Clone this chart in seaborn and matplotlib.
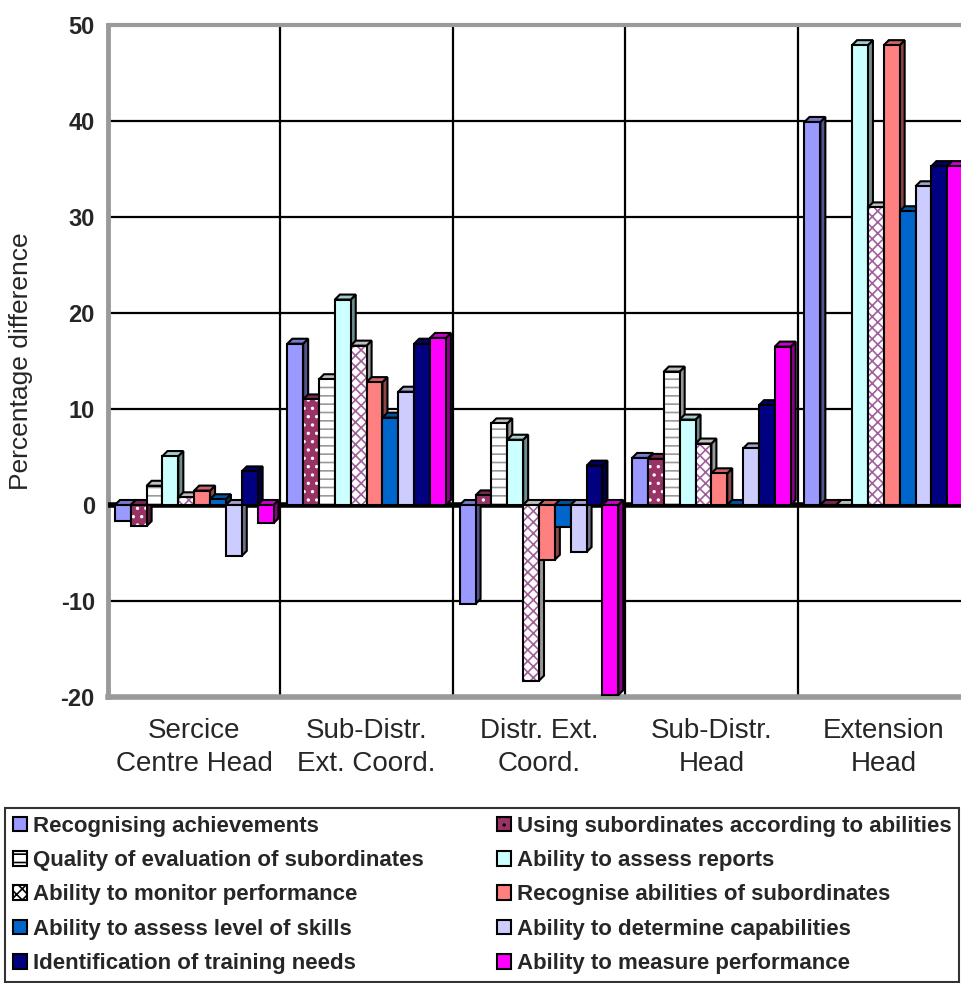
import numpy as np
import pandas as pd
import matplotlib
matplotlib.use("Agg")
import matplotlib.pyplot as plt
from matplotlib.patches import Patch, Polygon, Rectangle
import matplotlib.colors as mcolors
import seaborn as sns

sns.set_style("white")
plt.rcParams["font.family"] = ["Liberation Sans", "DejaVu Sans"]
plt.rcParams["hatch.linewidth"] = 1.2

groups = ["Sercice\nCentre Head", "Sub-Distr.\nExt. Coord.", "Distr. Ext.\nCoord.",
          "Sub-Distr.\nHead", "Extension\nHead"]
series = [
    "Recognising achievements",
    "Using subordinates according to abilities",
    "Quality of evaluation of subordinates",
    "Ability to assess reports",
    "Ability to monitor performance",
    "Recognise abilities of subordinates",
    "Ability to assess level of skills",
    "Ability to determine capabilities",
    "Identification of training needs",
    "Ability to measure performance",
]
# values per series, one per group
recognising = [-1.7, 16.8, -10.3, 4.9, 39.9]
using_subs = [-2.2, 11.0, 1.0, 4.8, 0.0]
quality_eval = [2.0, 13.1, 8.5, 13.9, 0.0]
assess_reports = [5.1, 21.4, 6.8, 8.9, 47.9]
monitor_perf = [0.8, 16.6, -18.3, 6.4, 31.0]
recognise_abil = [1.5, 12.8, -5.7, 3.3, 47.9]
assess_skills = [0.6, 9.1, -2.3, 0.0, 30.6]
determine_cap = [-5.3, 11.8, -4.9, 5.9, 33.2]
training_needs = [3.5, 16.8, 4.1, 10.4, 35.3]
measure_perf = [-1.9, 17.4, -19.8, 16.5, 35.3]

values = [recognising, using_subs, quality_eval, assess_reports, monitor_perf,
          recognise_abil, assess_skills, determine_cap, training_needs, measure_perf]

face = ["#9999FF", "#993366", "#FFFFFF", "#CCFFFF", "#FFFFFF",
        "#FF8080", "#0066CC", "#CCCCFF", "#000080", "#FF00FF"]
hatches = [None, "..", "--", None, "xxx", None, None, None, None, None]
hatch_col = [None, "#FFFFFF", "#999999", None, "#A0609A", None, None, None, None, None]

df = pd.DataFrame({
    "group": np.repeat(groups, len(series)),
    "series": series * len(groups),
    "value": [values[s][g] for g in range(len(groups)) for s in range(len(series))],
})

W, H, DPI = 961, 983, 100
fig = plt.figure(figsize=(W / DPI, H / DPI), dpi=DPI)
left, right, bottom, top = 108 / W, 970 / W, 1 - 697 / H, 1 - 25 / H
ax = fig.add_axes([left, bottom, right - left, top - bottom])

sns.barplot(data=df, x="group", y="value", hue="series", hue_order=series,
            order=groups, palette=face, width=0.92, gap=0, legend=False,
            saturation=1, ax=ax, zorder=3)

ax.set_xlim(-0.5, 4.5)
ax.set_ylim(-20, 50)

# depth offsets in data units (about 5 px)
px_x = (right - left) * W / 5.0
px_y = (top - bottom) * H / 70.0
dx, dy = 5 / px_x, 5 / px_y

for i, cont in enumerate(ax.containers):
    base_z = 3 + i * 0.01
    for p in cont.patches:
        x0, w = p.get_x(), p.get_width()
        y0, h = p.get_y(), p.get_height()
        ylo, yhi = min(y0, y0 + h), max(y0, y0 + h)
        x1 = x0 + w
        fc = mcolors.to_rgb(face[i])
        dark = tuple(c * 0.55 for c in fc) if face[i] != "#FFFFFF" else (0.6, 0.6, 0.6)
        mid = tuple(c * 0.8 for c in fc) if face[i] != "#FFFFFF" else (0.75, 0.75, 0.75)
        side = Polygon([(x1, ylo), (x1, yhi), (x1 + dx, yhi + dy), (x1 + dx, ylo + dy)],
                       closed=True, facecolor=dark, edgecolor="black", lw=1.5, zorder=base_z - 0.005)
        topf = Polygon([(x0, yhi), (x1, yhi), (x1 + dx, yhi + dy), (x0 + dx, yhi + dy)],
                       closed=True, facecolor=mid, edgecolor="black", lw=1.5, zorder=base_z - 0.005)
        ax.add_patch(side)
        ax.add_patch(topf)
        p.set_zorder(base_z)
        if hatches[i]:
            p.set_hatch(hatches[i])
            p.set_edgecolor(hatch_col[i])
            p.set_linewidth(0)
            ax.add_patch(Rectangle((x0, ylo), w, yhi - ylo, fill=False,
                                   edgecolor="black", lw=1.5, zorder=base_z + 0.001))
        else:
            p.set_edgecolor("black")
            p.set_linewidth(1.5)

ax.axhline(0, color="black", lw=4, zorder=2.9)

# ticks and gridlines
ax.set_yticks(np.arange(-20, 51, 10))
ax.set_yticklabels([str(v) for v in range(-20, 51, 10)], fontweight="bold", fontsize=17)
ax.set_xticks(range(5))
ax.set_xticklabels(groups, fontsize=20, linespacing=1.35)
ax.set_xticks(np.arange(-0.5, 4.6, 1), minor=True)
ax.tick_params(axis="x", which="major", length=0, pad=15)
ax.tick_params(axis="x", which="minor", length=14, width=2, color="black", direction="out")
ax.tick_params(axis="y", which="major", length=8, width=2, color="black", direction="out", pad=1.5)
ax.yaxis.grid(True, color="black", lw=1.6, zorder=0.5)
ax.xaxis.grid(True, which="minor", color="black", lw=1.6, zorder=0.5)
ax.set_axisbelow(True)

for s in ["top", "right"]:
    ax.spines[s].set_visible(False)
ax.spines["left"].set_color("#9a9a9a")
ax.spines["left"].set_linewidth(3.5)
ax.spines["bottom"].set_color("#9a9a9a")
ax.spines["bottom"].set_linewidth(4)
ax.axhline(50, color="#9a9a9a", lw=3, zorder=1, clip_on=False)

ax.set_xlabel("")
ax.set_ylabel("Percentage difference", fontsize=19)
ax.yaxis.set_label_coords(-0.087, 0.5)

handles = [Patch(facecolor=face[i], edgecolor="black", hatch=hatches[i], lw=1.5) for i in range(10)]
order = [0, 2, 4, 6, 8, 1, 3, 5, 7, 9]
leg = fig.legend([handles[i] for i in order], [series[i] for i in order],
                 loc="upper left", bbox_to_anchor=(5 / W, 1 - 808 / H), ncol=2,
                 frameon=True, fancybox=False, edgecolor="black",
                 prop={"weight": "bold", "size": 16}, handlelength=0.65, handleheight=0.65,
                 handletextpad=0.25, columnspacing=3.3, labelspacing=0.6,
                 borderpad=0.35, borderaxespad=0)
leg.get_frame().set_linewidth(1.5)

fig.savefig("out.png", dpi=DPI)
